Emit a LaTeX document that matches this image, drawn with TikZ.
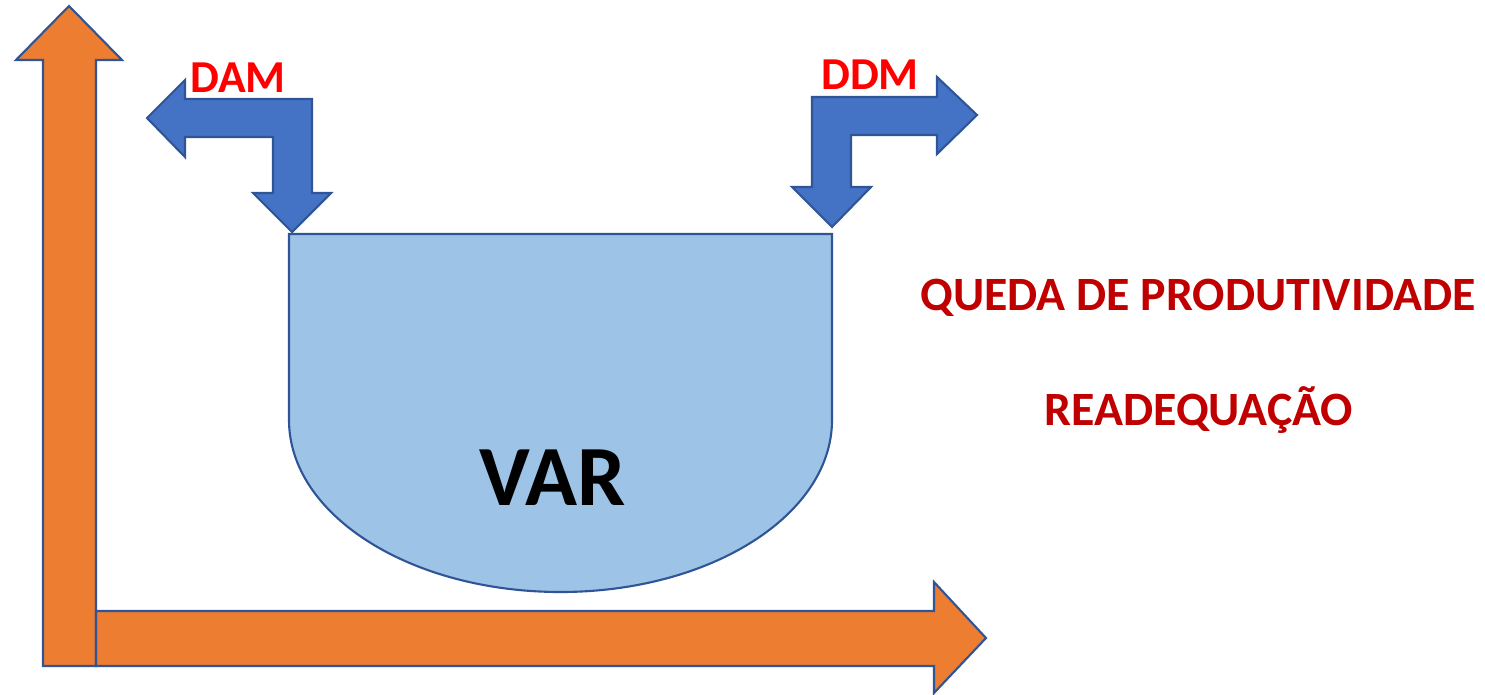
\documentclass[tikz,border=0pt]{standalone}
\usepackage{fontspec}
\setmainfont{Carlito}
\definecolor{eixo}{HTML}{ED7D31}
\definecolor{contorno}{HTML}{2F5597}
\definecolor{seta}{HTML}{4472C4}
\definecolor{cuba}{HTML}{9DC3E6}
\definecolor{vermelho}{HTML}{C00000}

\begin{document}
\begin{tikzpicture}[x=0.01cm, y=-0.01cm,
  eixoseta/.style={draw=contorno, fill=eixo, line width=0.6pt},
  desvio/.style={draw=contorno, fill=seta, line width=0.6pt},
  rotulo/.style={font=\fontsize{13}{15}\selectfont\bfseries, text=red},
  efeito/.style={font=\fontsize{13.6}{16}\selectfont\bfseries, text=vermelho}]

  \useasboundingbox (0,0) rectangle (1485,694);

  %% eixos
  \draw[eixoseta] (43,666) -- (43,60) -- (16,60) -- (69,6) -- (122,60)
    -- (96,60) -- (96,666) -- cycle;
  \draw[eixoseta] (96,611) -- (934,611) -- (934,582) -- (986,638)
    -- (934,693) -- (934,666) -- (96,666) -- cycle;

  %% cuba
  \draw[draw=contorno, fill=cuba, line width=0.6pt] (289,234) -- (832,234) -- (832,420)
    arc[start angle=0, end angle=180, x radius=271.5, y radius=172] -- cycle;
  \node[font=\fontsize{24.4}{28}\selectfont\bfseries] (var) at (553,478) {VAR};

  %% DAM
  \draw[desvio] (147,118) -- (185,80) -- (185,99) -- (312,99) -- (312,193)
    -- (331,193) -- (292,232) -- (253,193) -- (273,193) -- (273,137)
    -- (185,137) -- (185,157) -- cycle;
  \node[rotulo] (dam) at (238,78) {DAM};

  %% DDM
  \draw[desvio] (977,115) -- (937,77) -- (937,97) -- (812,97) -- (812,187)
    -- (792,187) -- (832,227) -- (871,187) -- (851,187) -- (851,135)
    -- (937,135) -- (937,154) -- cycle;
  \node[rotulo] (ddm) at (870,75) {DDM};

  \node[efeito] (queda) at (1198,298) {QUEDA DE PRODUTIVIDADE};
  \node[efeito] (readequacao) at (1199,410) {READEQUAÇÃO};
\end{tikzpicture}
\end{document}
